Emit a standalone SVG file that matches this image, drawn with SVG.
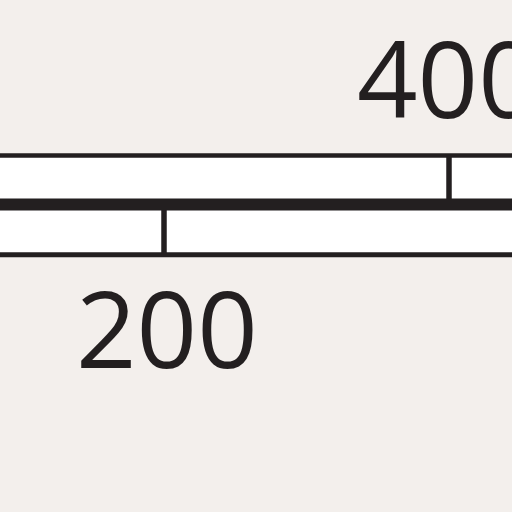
<svg xmlns="http://www.w3.org/2000/svg" width="512" height="512" viewBox="0 0 512 512">
  <style>
    .bar { fill: #ffffff; }
    .ln { stroke: #231f20; fill: none; }
    .lbl { font-family: "Open Sans", "Noto Sans", sans-serif; font-size: 106px; fill: #231f20; }
  </style>
  <rect width="512" height="512" fill="#f3efec"/>
  <g id="top-bar">
    <rect class="bar" x="-5" y="155.5" width="525" height="49"/>
    <line class="ln" x1="-5" y1="155.5" x2="520" y2="155.5" stroke-width="4.5"/>
    <line class="ln" x1="449" y1="155.5" x2="449" y2="204.5" stroke-width="5.5"/>
  </g>
  <g id="bottom-bar">
    <rect class="bar" x="-5" y="204.5" width="525" height="50.5"/>
    <line class="ln" x1="-5" y1="254.8" x2="520" y2="254.8" stroke-width="5"/>
    <line class="ln" x1="164" y1="204.5" x2="164" y2="254.8" stroke-width="5.5"/>
  </g>
  <g id="connectors">
    <line class="ln" x1="-5" y1="204.6" x2="520" y2="204.6" stroke-width="12"/>
  </g>
  <g id="label-400">
    <text class="lbl" x="357" y="117.7">400</text>
  </g>
  <g id="label-200">
    <text class="lbl" x="76" y="367.7">200</text>
  </g>
</svg>
